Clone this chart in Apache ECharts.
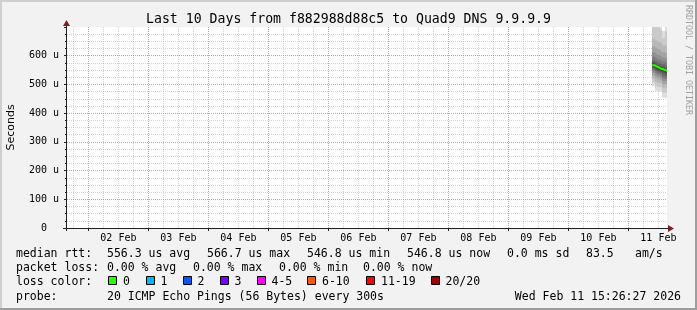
<!DOCTYPE html>
<html><head><meta charset="utf-8">
<script src="https://cdn.jsdelivr.net/npm/echarts@6/dist/echarts.min.js"></script>
<style>html,body{margin:0;padding:0;background:#f2f2f2}#c{width:697px;height:310px}</style>
</head><body><div id="c"></div>
<script>
// ---------------- data ----------------
const titleText = 'Last 10 Days from f882988d88c5 to Quad9 DNS 9.9.9.9';
const yAxisTitle = 'Seconds';
const watermarkText = 'RRDTOOL / TOBI OETIKER';
// x axis in hours since 01 Feb 00:00
const axisStartHour = 15 + 26 / 60 + 27 / 3600;   // 01 Feb 15:26:27
const axisEndHour = axisStartHour + 240;          // 11 Feb 15:26:27
const dayLabels = ['02 Feb', '03 Feb', '04 Feb', '05 Feb', '06 Feb', '07 Feb', '08 Feb', '09 Feb', '10 Feb', '11 Feb'];
const yTickLabels = ['0', '100 u', '200 u', '300 u', '400 u', '500 u', '600 u'];
const yMax = 700;
// hourly samples on 11 Feb (end of each 1 h bucket, hours since 01 Feb 00:00)
const sampleEndHour = [250.5, 251.5, 252.5, 253.5, 254.5, 255.5];
const medianRtt = [566.7, 562.0, 557.5, 553.5, 551.3, 546.8]; // microseconds
// 20 sorted ping times per sample (microseconds)
const pings = [
  [494, 507, 520, 531, 540, 547, 553, 558, 562, 565.0, 568.4, 572, 578, 586, 597, 612, 632, 658, 705, 770],
  [478, 494, 510, 522, 531, 539, 546, 551, 556, 560.5, 563.5, 568, 574, 582, 593, 608, 628, 654, 702, 765],
  [476, 491, 506, 518, 527, 535, 541, 547, 552, 556.0, 559.0, 563, 569, 577, 588, 603, 623, 649, 698, 755],
  [475, 490, 504, 515, 524, 531, 537, 543, 548, 552.0, 555.0, 559, 565, 573, 584, 598, 618, 645, 690, 740],
  [455, 472, 489, 502, 512, 520, 528, 538, 545, 549.5, 553.1, 557, 563, 571, 581, 594, 612, 636, 662, 686],
  [453, 471, 488, 501, 511, 519, 527, 534, 540, 545.0, 548.6, 552, 558, 566, 577, 591, 610, 636, 685, 745]
];
const medianRowLabel = 'median rtt:';
const medianRowItems = ['556.3 us avg', '566.7 us max', '546.8 us min', '546.8 us now', '0.0 ms sd', '83.5', 'am/s'];
const lossRowLabel = 'packet loss:';
const lossRowItems = ['0.00 % avg', '0.00 % max', '0.00 % min', '0.00 % now'];
const lossColorLabel = 'loss color:';
const lossColorNames = ['0', '1', '2', '3', '4-5', '6-10', '11-19', '20/20'];
const lossColorValues = ['#26ff00', '#00b8ff', '#0059ff', '#7e00ff', '#ff00ff', '#ff5500', '#ff0000', '#a10000'];
const probeLabel = 'probe:';
const probeText = '20 ICMP Echo Pings (56 Bytes) every 300s';
const stampText = 'Wed Feb 11 15:26:27 2026';

// ---------------- layout / style ----------------
const MONO = '"DejaVu Sans Mono", monospace';
const LEG_FONT = '11.5px ' + MONO;
const GRID_L = 67, GRID_T = 27, GRID_W = 600, GRID_H = 201;
const C_GRID = 'rgba(143,143,143,0.38)';
const C_MGRID = 'rgba(222,79,79,0.6)';
const C_AXIS = '#1f1f1f';
const C_ARROW = '#801f1f';

const gridHours = [];
for (let h = Math.ceil(axisStartHour / 6) * 6; h <= axisEndHour; h += 6) gridHours.push(h);

const medianLine = [[sampleEndHour[0] - 1, medianRtt[0]]].concat(sampleEndHour.map((t, i) => [t, medianRtt[i]]));

const chart = echarts.init(document.getElementById('c'), null, {renderer: 'canvas'});

const g = [];
// frame shading
g.push({type: 'rect', shape: {x: 0, y: 0, width: 697, height: 2}, style: {fill: '#cfcfcf'}, z: 100});
g.push({type: 'rect', shape: {x: 0, y: 0, width: 2, height: 310}, style: {fill: '#cfcfcf'}, z: 100});
g.push({type: 'rect', shape: {x: 695, y: 0, width: 2, height: 310}, style: {fill: '#9e9e9e'}, z: 100});
g.push({type: 'rect', shape: {x: 0, y: 308, width: 697, height: 2}, style: {fill: '#9e9e9e'}, z: 100});
// axis lines + arrows
g.push({type: 'line', shape: {x1: 63, y1: 228.5, x2: 669, y2: 228.5}, style: {stroke: C_AXIS, lineWidth: 1}, z: 50});
g.push({type: 'line', shape: {x1: 66.5, y1: 231, x2: 66.5, y2: 25}, style: {stroke: C_AXIS, lineWidth: 1}, z: 50});
g.push({type: 'polygon', shape: {points: [[668, 225], [674, 228.5], [668, 232]]}, style: {fill: C_ARROW}, z: 51});
g.push({type: 'polygon', shape: {points: [[63, 26], [66.5, 20], [70, 26]]}, style: {fill: C_ARROW}, z: 51});
// y title & watermark
g.push({type: 'text', x: 11, y: 127.5, rotation: Math.PI / 2, style: {text: yAxisTitle, font: '11px "DejaVu Sans"', fill: '#000', align: 'center', verticalAlign: 'middle'}});
g.push({type: 'text', x: 688, y: 60, rotation: -Math.PI / 2, style: {text: watermarkText, font: '8.3px ' + MONO, fill: '#a0a0a0', align: 'center', verticalAlign: 'middle'}});
// legend rows
const ROW_Y = [254, 268.3, 281.7, 296.7];
const txt = (s, x, y, align) => g.push({type: 'text', x: x, y: y, style: {text: s, font: LEG_FONT, fill: '#000', align: align || 'left', verticalAlign: 'middle'}});
txt(medianRowLabel, 16, ROW_Y[0]);
[107, 207, 307, 407, 507, 586, 635].forEach((x, i) => txt(medianRowItems[i], x, ROW_Y[0]));
txt(lossRowLabel, 16, ROW_Y[1]);
[107, 193, 279, 363].forEach((x, i) => txt(lossRowItems[i], x, ROW_Y[1]));
txt(lossColorLabel, 16, ROW_Y[2]);
[108, 145.5, 182.5, 219.5, 256.5, 307, 366, 430.5].forEach((x, i) => {
  g.push({type: 'rect', shape: {x: Math.round(x) + 0.5, y: 276.5, width: 8, height: 8}, style: {fill: lossColorValues[i], stroke: '#000', lineWidth: 1}});
  txt(lossColorNames[i], x + 15, ROW_Y[2]);
});
txt(probeLabel, 16, ROW_Y[3]);
txt(probeText, 107, ROW_Y[3]);
txt(stampText, 681, ROW_Y[3], 'right');

chart.setOption({
  animation: false,
  backgroundColor: '#f2f2f2',
  title: {text: titleText, left: 'center', top: 13, padding: 0,
    textStyle: {fontFamily: MONO, fontSize: 13.2, fontWeight: 'normal', color: '#000'}},
  grid: {left: GRID_L, top: GRID_T, width: GRID_W, height: GRID_H, show: true, backgroundColor: '#ffffff', borderWidth: 0},
  xAxis: {type: 'value', min: axisStartHour, max: axisEndHour,
    axisLine: {show: false}, axisTick: {show: false}, axisLabel: {show: false}, splitLine: {show: false}},
  yAxis: {type: 'value', min: 0, max: yMax, interval: 100,
    axisLine: {show: false},
    axisTick: {show: true, length: 3, lineStyle: {color: C_AXIS}},
    minorTick: {show: true, splitNumber: 4, length: 2, lineStyle: {color: C_AXIS}},
    axisLabel: {show: true, margin: 8, fontFamily: MONO, fontSize: 10, color: '#000', showMaxLabel: false,
      formatter: v => { const s = yTickLabels[Math.round(v / 100)] || ''; return s === '0' ? '0  ' : s; }},
    splitLine: {show: true, showMaxLine: false, showMinLine: false, lineStyle: {color: C_MGRID, type: [1, 1]}},
    minorSplitLine: {show: true, lineStyle: {color: C_GRID, type: [1, 1]}}
  },
  graphic: g,
  series: [
    { // vertical grid + midnight ticks
      type: 'custom', silent: true, z: 1, clip: false,
      data: gridHours.map(h => [h, 0]),
      renderItem(params, api) {
        const h = api.value(0);
        const top = api.coord([h, yMax]), bot = api.coord([h, 0]);
        const x = Math.round(top[0]) + 0.5;
        const major = (Math.round(h) % 24 === 0);
        const ch = [{type: 'line', shape: {x1: x, y1: top[1], x2: x, y2: bot[1]},
          style: {stroke: major ? C_MGRID : C_GRID, lineWidth: 1, lineDash: [1, 1]}}];
        if (major) ch.push({type: 'line', shape: {x1: x, y1: bot[1], x2: x, y2: bot[1] + 3}, style: {stroke: C_AXIS, lineWidth: 1}});
        return {type: 'group', children: ch};
      }
    },
    { // day labels at noon
      type: 'custom', silent: true, z: 1, clip: false,
      data: dayLabels.map((s, i) => [36 + 24 * i, 0]),
      renderItem(params, api) {
        const c = api.coord([api.value(0), 0]);
        return {type: 'text', x: c[0], y: c[1] + 10,
          style: {text: dayLabels[params.dataIndex], font: '10px ' + MONO, fill: '#000', align: 'center', verticalAlign: 'middle'}};
      }
    },
    { // smoke
      type: 'custom', silent: true, z: 2, clip: true,
      data: sampleEndHour.map((t, i) => [t, medianRtt[i], i]),
      renderItem(params, api) {
        const t = api.value(0), p = pings[params.dataIndex];
        const n = p.length, half = n / 2, ch = [];
        for (let i = 0; i < half; i++) {
          const gv = Math.floor(190 / half * (half - (i + 1))) + 50;
          const a = api.coord([t - 1, p[n - 1 - i]]);
          const b = api.coord([t, p[i]]);
          const x0 = Math.round(a[0]), x1 = Math.round(b[0]);
          ch.push({type: 'rect', shape: {x: x0, y: a[1], width: x1 - x0, height: b[1] - a[1]},
            style: {fill: 'rgb(' + gv + ',' + gv + ',' + gv + ')'}});
        }
        return {type: 'group', children: ch};
      }
    },
    { // median
      type: 'line', step: 'start', z: 3, showSymbol: false, silent: true, clip: true,
      data: medianLine,
      lineStyle: {color: lossColorValues[0], width: 2}
    }
  ]
});
</script></body></html>
